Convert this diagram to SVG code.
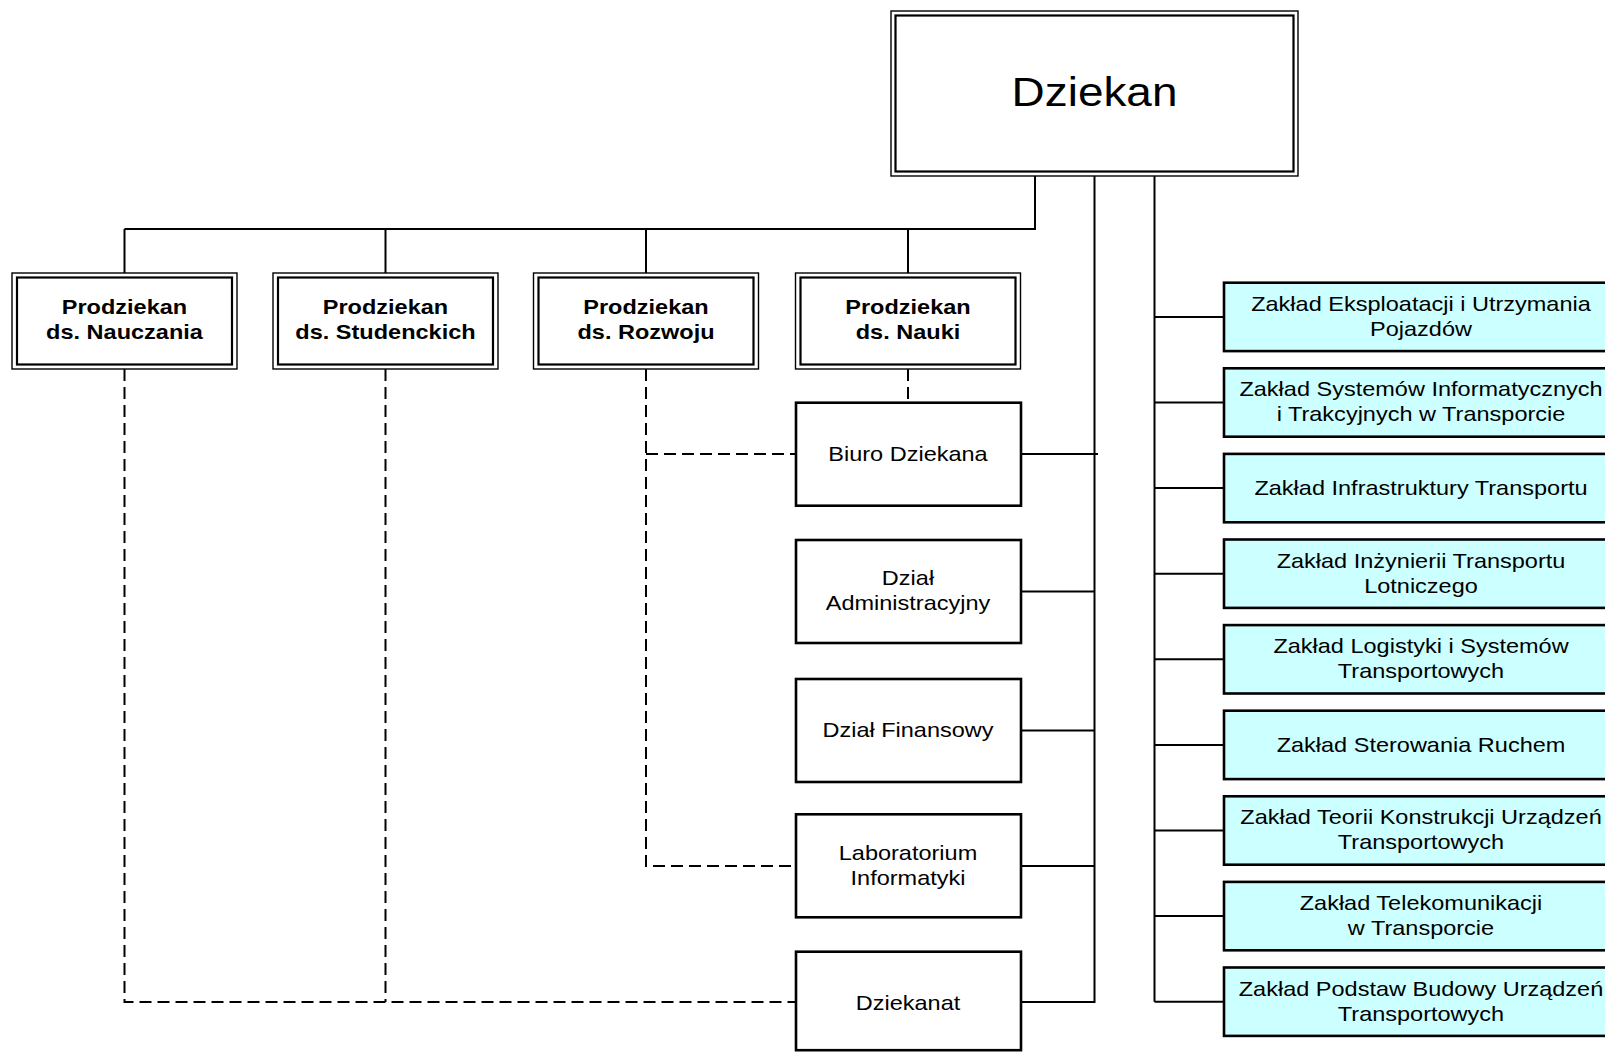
<svg xmlns="http://www.w3.org/2000/svg" width="1605" height="1052" viewBox="0 0 1605 1052">
<style>
.t{font-family:"Liberation Sans",Arial,sans-serif;font-size:21px;fill:#000;text-anchor:middle}
.b{font-weight:bold}
.big{font-size:41px}
.ln{fill:none;stroke:#000;stroke-width:2}
.dash{fill:none;stroke:#000;stroke-width:2;stroke-dasharray:12 6}
.box{fill:#fff;stroke:#000;stroke-width:2.6}
.zak{fill:#CCFFFF;stroke:#000;stroke-width:2.6}
.o{fill:#fff;stroke:#000;stroke-width:1.4}
.i{fill:none;stroke:#000;stroke-width:2.2}
</style>
<rect width="1605" height="1052" fill="#fff"/>
<g id="connectors">
<polyline class="ln" points="1035,176 1035,229 124.5,229"/>
<line class="ln" x1="124.5" y1="229" x2="124.5" y2="273"/>
<line class="ln" x1="385.5" y1="229" x2="385.5" y2="273"/>
<line class="ln" x1="646" y1="229" x2="646" y2="273"/>
<line class="ln" x1="908" y1="229" x2="908" y2="273"/>
<polyline class="ln" points="1094.5,176 1094.5,1002 1021,1002"/>
<line class="ln" x1="1021" y1="454" x2="1098" y2="454"/>
<line class="ln" x1="1021" y1="591.5" x2="1094.5" y2="591.5"/>
<line class="ln" x1="1021" y1="730.5" x2="1094.5" y2="730.5"/>
<line class="ln" x1="1021" y1="866" x2="1094.5" y2="866"/>
<line class="ln" x1="1154.5" y1="176" x2="1154.5" y2="1001.7"/>
<line class="ln" x1="1154.5" y1="316.9" x2="1224" y2="316.9"/>
<line class="ln" x1="1154.5" y1="402.5" x2="1224" y2="402.5"/>
<line class="ln" x1="1154.5" y1="488.1" x2="1224" y2="488.1"/>
<line class="ln" x1="1154.5" y1="573.7" x2="1224" y2="573.7"/>
<line class="ln" x1="1154.5" y1="659.3" x2="1224" y2="659.3"/>
<line class="ln" x1="1154.5" y1="744.9" x2="1224" y2="744.9"/>
<line class="ln" x1="1154.5" y1="830.5" x2="1224" y2="830.5"/>
<line class="ln" x1="1154.5" y1="916.1" x2="1224" y2="916.1"/>
<line class="ln" x1="1154.5" y1="1001.7" x2="1224" y2="1001.7"/>
<polyline class="dash" points="124.5,369 124.5,1002 796,1002"/>
<line class="dash" x1="385.5" y1="369" x2="385.5" y2="1002"/>
<polyline class="dash" points="646,369 646,866 796,866"/>
<line class="dash" x1="646" y1="454" x2="796" y2="454"/>
<line class="dash" x1="908" y1="369" x2="908" y2="402.7"/>
</g>
<g id="dziekan">
<rect class="o" x="891" y="11" width="407" height="165"/>
<rect class="i" x="895.5" y="15.5" width="398" height="156"/>
<text class="t big" transform="translate(1094.5 0) scale(1.12 1)" x="0" y="106">Dziekan</text>
</g>
<g id="prodziekan-nauczania">
<rect class="o" x="12" y="273" width="225" height="96"/>
<rect class="i" x="17" y="277.5" width="215" height="87"/>
<text class="t b" transform="translate(124.5 0) scale(1.12 1)" x="0" y="314.5">Prodziekan</text>
<text class="t b" transform="translate(124.5 0) scale(1.12 1)" x="0" y="339.5">ds. Nauczania</text>
</g>
<g id="prodziekan-studenckich">
<rect class="o" x="273" y="273" width="225" height="96"/>
<rect class="i" x="278" y="277.5" width="215" height="87"/>
<text class="t b" transform="translate(385.5 0) scale(1.12 1)" x="0" y="314.5">Prodziekan</text>
<text class="t b" transform="translate(385.5 0) scale(1.12 1)" x="0" y="339.5">ds. Studenckich</text>
</g>
<g id="prodziekan-rozwoju">
<rect class="o" x="533.5" y="273" width="225" height="96"/>
<rect class="i" x="538.5" y="277.5" width="215" height="87"/>
<text class="t b" transform="translate(646 0) scale(1.12 1)" x="0" y="314.5">Prodziekan</text>
<text class="t b" transform="translate(646 0) scale(1.12 1)" x="0" y="339.5">ds. Rozwoju</text>
</g>
<g id="prodziekan-nauki">
<rect class="o" x="795.5" y="273" width="225" height="96"/>
<rect class="i" x="800.5" y="277.5" width="215" height="87"/>
<text class="t b" transform="translate(908 0) scale(1.12 1)" x="0" y="314.5">Prodziekan</text>
<text class="t b" transform="translate(908 0) scale(1.12 1)" x="0" y="339.5">ds. Nauki</text>
</g>
<g id="biuro-dziekana">
<rect class="box" x="796" y="402.7" width="225" height="103"/>
<text class="t" transform="translate(908 0) scale(1.12 1)" x="0" y="461">Biuro Dziekana</text>
</g>
<g id="dzial-administracyjny">
<rect class="box" x="796" y="540" width="225" height="103"/>
<text class="t" transform="translate(908 0) scale(1.12 1)" x="0" y="585.5">Dział</text>
<text class="t" transform="translate(908 0) scale(1.12 1)" x="0" y="610.5">Administracyjny</text>
</g>
<g id="dzial-finansowy">
<rect class="box" x="796" y="679" width="225" height="103"/>
<text class="t" transform="translate(908 0) scale(1.12 1)" x="0" y="737.5">Dział Finansowy</text>
</g>
<g id="laboratorium-informatyki">
<rect class="box" x="796" y="814.3" width="225" height="103"/>
<text class="t" transform="translate(908 0) scale(1.12 1)" x="0" y="860">Laboratorium</text>
<text class="t" transform="translate(908 0) scale(1.12 1)" x="0" y="885">Informatyki</text>
</g>
<g id="dziekanat">
<rect class="box" x="796" y="951.7" width="225" height="98.5"/>
<text class="t" transform="translate(908 0) scale(1.12 1)" x="0" y="1010">Dziekanat</text>
</g>
<g id="zaklad-1">
<rect class="zak" x="1224" y="282.7" width="394" height="68.4"/>
<text class="t" transform="translate(1421 0) scale(1.12 1)" x="0" y="311">Zakład Eksploatacji i Utrzymania</text>
<text class="t" transform="translate(1421 0) scale(1.12 1)" x="0" y="336">Pojazdów</text>
</g>
<g id="zaklad-2">
<rect class="zak" x="1224" y="368.3" width="394" height="68.4"/>
<text class="t" transform="translate(1421 0) scale(1.12 1)" x="0" y="396.5">Zakład Systemów Informatycznych</text>
<text class="t" transform="translate(1421 0) scale(1.12 1)" x="0" y="421.5">i Trakcyjnych w Transporcie</text>
</g>
<g id="zaklad-3">
<rect class="zak" x="1224" y="453.9" width="394" height="68.4"/>
<text class="t" transform="translate(1421 0) scale(1.12 1)" x="0" y="495.1">Zakład Infrastruktury Transportu</text>
</g>
<g id="zaklad-4">
<rect class="zak" x="1224" y="539.5" width="394" height="68.4"/>
<text class="t" transform="translate(1421 0) scale(1.12 1)" x="0" y="567.7">Zakład Inżynierii Transportu</text>
<text class="t" transform="translate(1421 0) scale(1.12 1)" x="0" y="592.7">Lotniczego</text>
</g>
<g id="zaklad-5">
<rect class="zak" x="1224" y="625.1" width="394" height="68.4"/>
<text class="t" transform="translate(1421 0) scale(1.12 1)" x="0" y="653.3">Zakład Logistyki i Systemów</text>
<text class="t" transform="translate(1421 0) scale(1.12 1)" x="0" y="678.3">Transportowych</text>
</g>
<g id="zaklad-6">
<rect class="zak" x="1224" y="710.7" width="394" height="68.4"/>
<text class="t" transform="translate(1421 0) scale(1.12 1)" x="0" y="751.9">Zakład Sterowania Ruchem</text>
</g>
<g id="zaklad-7">
<rect class="zak" x="1224" y="796.3" width="394" height="68.4"/>
<text class="t" transform="translate(1421 0) scale(1.12 1)" x="0" y="824.5">Zakład Teorii Konstrukcji Urządzeń</text>
<text class="t" transform="translate(1421 0) scale(1.12 1)" x="0" y="849.5">Transportowych</text>
</g>
<g id="zaklad-8">
<rect class="zak" x="1224" y="881.9" width="394" height="68.4"/>
<text class="t" transform="translate(1421 0) scale(1.12 1)" x="0" y="910.1">Zakład Telekomunikacji</text>
<text class="t" transform="translate(1421 0) scale(1.12 1)" x="0" y="935.1">w Transporcie</text>
</g>
<g id="zaklad-9">
<rect class="zak" x="1224" y="967.5" width="394" height="68.4"/>
<text class="t" transform="translate(1421 0) scale(1.12 1)" x="0" y="995.7">Zakład Podstaw Budowy Urządzeń</text>
<text class="t" transform="translate(1421 0) scale(1.12 1)" x="0" y="1020.7">Transportowych</text>
</g>
</svg>
